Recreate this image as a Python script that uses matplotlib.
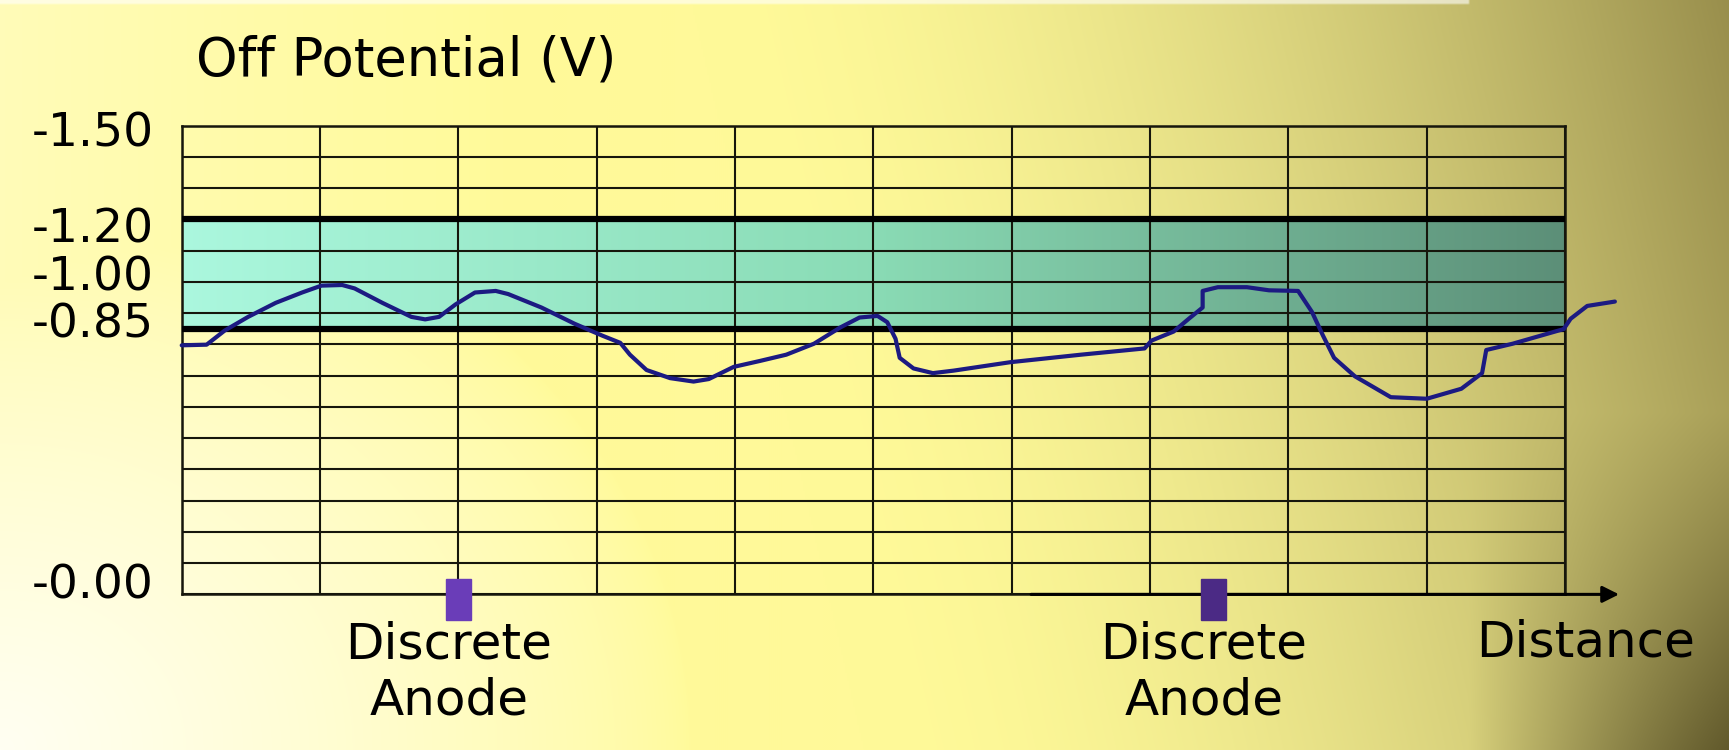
import numpy as np
import matplotlib
matplotlib.use("Agg")
import matplotlib.pyplot as plt
from matplotlib.patches import Rectangle
from matplotlib.transforms import ScaledTranslation

# distance along the line (grid columns) and the measured off potential (V)
distance = [0.00, 0.18, 0.31, 0.48, 0.68, 0.87, 1.01, 1.16, 1.25, 1.45,
            1.66, 1.76, 1.86, 1.98, 2.12, 2.27, 2.36, 2.60, 2.84, 3.04,
            3.17, 3.24, 3.36, 3.53, 3.70, 3.81, 3.99, 4.18, 4.37, 4.57,
            4.76, 4.90, 5.03, 5.10, 5.16, 5.19, 5.29, 5.43, 5.58, 5.99,
            6.50, 6.96, 7.01, 7.17, 7.28, 7.38, 7.38, 7.49, 7.70, 7.86,
            8.07, 8.17, 8.25, 8.33, 8.48, 8.74, 9.00, 9.25, 9.40, 9.43,
            9.62, 9.99, 10.04, 10.16, 10.36]
off_potential = [-0.797, -0.799, -0.844, -0.888, -0.933, -0.966, -0.988, -0.990, -0.979, -0.933,
                 -0.888, -0.880, -0.888, -0.928, -0.966, -0.971, -0.961, -0.918, -0.866, -0.828,
                 -0.805, -0.767, -0.718, -0.692, -0.681, -0.689, -0.728, -0.747, -0.767, -0.802,
                 -0.854, -0.886, -0.891, -0.871, -0.818, -0.757, -0.723, -0.708, -0.716, -0.743,
                 -0.767, -0.787, -0.812, -0.841, -0.882, -0.918, -0.971, -0.983, -0.983, -0.973,
                 -0.971, -0.904, -0.828, -0.757, -0.698, -0.631, -0.626, -0.658, -0.708, -0.782,
                 -0.802, -0.849, -0.882, -0.923, -0.937]

y_ticks = [-1.50, -1.20, -1.00, -0.85, 0.00]
y_tick_labels = ["-1.50", "-1.20", "-1.00", "-0.85", "-0.00"]
criteria = [-1.20, -0.85]
anode_pos = [2.0, 7.46]
anode_colors = ["#6a3db8", "#4b2a85"]

fig = plt.figure(figsize=(17.29, 7.5), dpi=100)

# yellow slide background
H, W = 375, 865
u = np.linspace(0, 1, W)[None, :]
v = np.linspace(0, 1, H)[:, None]
yellow = np.array([1.0, 0.98, 0.60])
olive = np.array([0.60, 0.56, 0.30])
dark = np.array([0.30, 0.27, 0.12])
pale = np.array([1.0, 1.0, 0.95])
t = np.clip((u + 0.1 * (1 - v) - 0.5) / 0.6, 0, 1) ** 1.8
img = yellow * (1 - t[..., None]) + olive * t[..., None]
d = (np.clip((u - 0.85) / 0.15, 0, 1) * np.clip((v - 0.55) / 0.45, 0, 1)) * 0.8
img = img * (1 - d[..., None]) + dark * d[..., None]
w = np.clip(1 - np.sqrt((u / 0.4) ** 2 + ((1 - v) / 0.8) ** 2), 0, 1) ** 0.7
w = np.maximum(w, np.clip(1 - u / 0.3, 0, 1) * 0.35)
img = img * (1 - w[..., None]) + pale * w[..., None]
img[:2, : int(W * 0.85)] = img[:2, : int(W * 0.85)] * 0.4 + 0.6
bg = fig.add_axes([0, 0, 1, 1], zorder=-10)
bg.imshow(img, aspect="auto", extent=[0, 1, 0, 1], interpolation="bilinear")
bg.axis("off")

ax = fig.add_axes([0.1051, 0.2075, 0.8001, 0.625])
ax.set_facecolor("none")

# criteria band with its own gradient
ramp = np.linspace(0, 1, 300)
c0 = np.array([0.67, 0.97, 0.87])
c1 = np.array([0.54, 0.86, 0.71])
c2 = np.array([0.36, 0.56, 0.47])
band = np.where(ramp[:, None] < 0.5,
                c0 + (c1 - c0) * (ramp[:, None] / 0.5),
                c1 + (c2 - c1) * ((ramp[:, None] - 0.5) / 0.5))
ax.imshow(band[None, :, :], extent=(0, 10, criteria[1], criteria[0]),
          aspect="auto", zorder=1, interpolation="bilinear")

gc = "#16160c"
for lvl in np.arange(0, 1.55, 0.1):
    ax.axhline(-lvl, color=gc, lw=1.5, zorder=2)
for xv in range(11):
    ax.axvline(xv, color=gc, lw=1.5, zorder=2)
for c in criteria:
    ax.axhline(c, color="black", lw=4.5, zorder=3)

ax.plot(distance, off_potential, color="#1c1a82", lw=3.0, zorder=5,
        clip_on=False, solid_joinstyle="round", solid_capstyle="round")

ax.set_xlim(0, 10)
ax.set_ylim(0, -1.5)
for s in ax.spines.values():
    s.set_color(gc)
    s.set_linewidth(1.8)
ax.set_xticks([])
ax.set_yticks(y_ticks, y_tick_labels)
ax.tick_params(axis="y", length=0, pad=20, labelsize=34)
# labels in the original sit a little off their lines
for lab, dy in zip(ax.get_yticklabels(), [-2.4, -4, 6.3, 6.3, 9.5]):
    lab.set_transform(lab.get_transform() + ScaledTranslation(0, dy / 72, fig.dpi_scale_trans))

for xa, col in zip(anode_pos, anode_colors):
    ax.add_patch(Rectangle((xa - 0.09, -0.049), 0.18, 0.131, color=col,
                           clip_on=False, zorder=6))
    ax.text(xa - 0.07, 0.25, "Discrete\nAnode", ha="center", va="center",
            fontsize=36, linespacing=1.2)

ax.text(10.15, 0.155, "Distance", ha="center", va="center", fontsize=36)
ax.annotate("", xy=(10.39, 0), xytext=(6.14, 0),
            arrowprops=dict(arrowstyle="-|>", color="black", lw=2.2,
                            mutation_scale=25, shrinkA=0, shrinkB=0),
            annotation_clip=False)

fig.text(0.1135, 0.92, "Off Potential (V)", ha="left", va="center", fontsize=38)

fig.savefig("out.png", dpi=100)
